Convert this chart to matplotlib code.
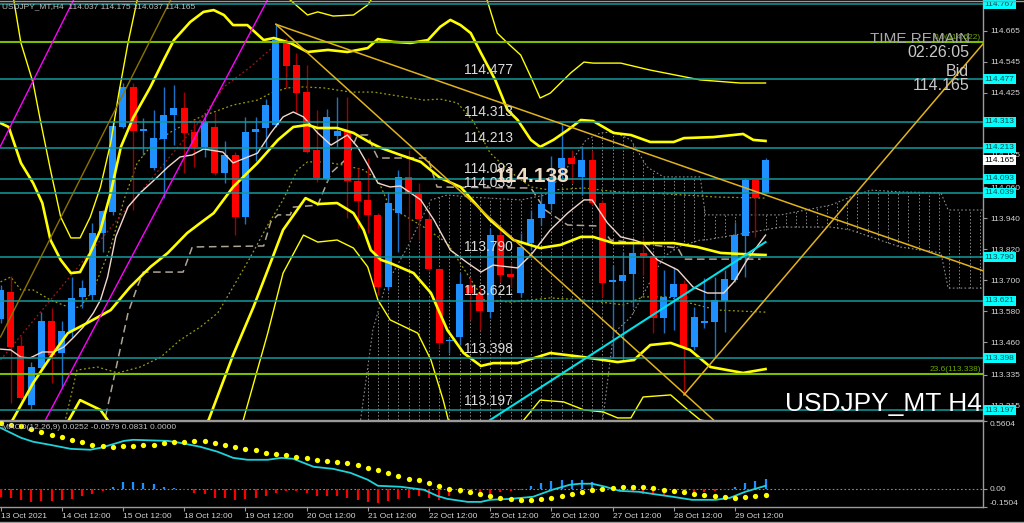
import numpy as np
import matplotlib
matplotlib.use("Agg")
import matplotlib.pyplot as plt
import matplotlib.transforms as mtransforms
from matplotlib.lines import Line2D

# USDJPY_MT H4, barra 0 = 13 Oct 12:00
opens = [113.550, 113.655, 113.446, 113.218, 113.361, 113.543, 113.419, 113.504, 113.636, 113.643,
         113.883, 113.964, 114.293, 114.448, 114.277, 114.134, 114.247, 114.339, 114.366, 114.274,
         114.216, 114.293, 114.115, 114.185, 113.945, 114.274, 114.289, 114.301, 114.618, 114.533,
         114.428, 114.204, 114.092, 114.258, 114.277, 114.084, 114.011, 113.953, 113.674, 113.960,
         114.100, 114.034, 113.937, 113.744, 113.465, 113.481, 113.682, 113.651, 113.577, 113.875,
         113.724, 113.651, 113.844, 113.941, 113.995, 114.134, 114.173, 114.100, 114.165, 113.999,
         113.694, 113.697, 113.724, 113.806, 113.794, 113.554, 113.636, 113.686, 113.442, 113.535,
         113.539, 113.620, 113.701, 113.871, 114.088, 114.037]
highs = [113.682, 113.717, 113.485, 113.384, 113.577, 113.593, 113.543, 113.713, 113.701, 113.922,
         113.972, 114.312, 114.463, 114.463, 114.328, 114.359, 114.448, 114.455, 114.428, 114.320,
         114.347, 114.351, 114.239, 114.196, 114.332, 114.332, 114.401, 114.687, 114.637, 114.579,
         114.533, 114.359, 114.363, 114.409, 114.409, 114.134, 114.173, 113.960, 114.042, 114.127,
         114.204, 114.076, 113.972, 113.748, 113.477, 113.728, 113.713, 113.674, 113.902, 113.902,
         113.767, 113.883, 113.972, 114.038, 114.181, 114.308, 114.204, 114.216, 114.204, 114.011,
         113.759, 113.809, 113.864, 113.864, 113.806, 113.740, 113.752, 113.701, 113.597, 113.709,
         113.713, 113.740, 113.926, 114.096, 114.088, 114.175]
lows = [113.535, 113.226, 113.237, 113.202, 113.353, 113.303, 113.284, 113.481, 113.593, 113.624,
        113.809, 113.953, 114.289, 113.972, 114.185, 114.127, 114.018, 114.223, 114.115, 114.138,
        114.177, 114.107, 114.076, 113.875, 113.918, 114.161, 114.216, 114.293, 114.444, 114.347,
        114.192, 114.080, 114.084, 114.216, 113.941, 113.902, 113.883, 113.643, 113.663, 113.809,
        113.856, 113.856, 113.736, 113.438, 113.419, 113.450, 113.547, 113.508, 113.554, 113.694,
        113.674, 113.636, 113.817, 113.914, 113.972, 114.088, 114.076, 114.030, 113.991, 113.636,
        113.400, 113.392, 113.597, 113.721, 113.496, 113.496, 113.508, 113.257, 113.431, 113.516,
        113.403, 113.500, 113.694, 113.713, 113.868, 114.037]
closes = [113.663, 113.442, 113.245, 113.365, 113.543, 113.411, 113.504, 113.632, 113.670, 113.883,
          113.968, 114.297, 114.448, 114.277, 114.285, 114.250, 114.339, 114.366, 114.270, 114.216,
          114.312, 114.115, 114.185, 113.945, 114.274, 114.285, 114.378, 114.629, 114.529, 114.424,
          114.196, 114.096, 114.332, 114.277, 114.084, 114.007, 113.953, 113.674, 113.999, 114.100,
          114.034, 113.937, 113.744, 113.458, 113.469, 113.686, 113.651, 113.581, 113.875, 113.721,
          113.713, 113.829, 113.937, 113.995, 114.100, 114.173, 114.150, 114.165, 113.999, 113.690,
          113.701, 113.721, 113.806, 113.794, 113.554, 113.636, 113.686, 113.442, 113.558, 113.543,
          113.624, 113.705, 113.875, 114.088, 114.018, 114.165]

# niveis horizontais e fibo
levels = [114.767, 114.477, 114.313, 114.213, 114.093, 114.039, 113.790, 113.621, 113.398, 113.197]
fibo_levels = [114.622, 113.338]
fibo_labels = ["0.0(114.622)", "23.6(113.338)"]
bid = 114.165
bid_mark = 114.138
price_ticks = [114.665, 114.545, 114.425, 114.185, 114.060, 113.940,
               113.820, 113.700, 113.580, 113.460, 113.335, 113.215]

# bollinger (20,2) grosso
ub_x = [0, 0.8, 2.0, 3.2, 4.1, 4.9, 5.9, 6.9, 7.8, 8.8, 9.8, 10.8, 11.8, 13.0, 14.7, 16.0, 17.0, 18.6, 19.9, 20.9,
        21.9, 22.8, 24.2, 25.8, 26.8, 28.4, 30.1, 32.1, 34.0, 36.0, 37.0, 38.5, 40.2, 41.9, 43.1, 44.1, 45.1, 46.1,
        47.1, 48.5, 49.7, 50.7, 52.0, 52.9, 54.2, 55.6, 56.9, 58.1, 60.1, 61.8, 63.7, 66.0, 67.0, 69.9, 72.8, 73.8, 75.0]
ub_y = [114.308, 114.293, 114.154, 114.076, 113.999, 113.856, 113.779, 113.728, 113.732, 113.806,
        113.895, 114.038, 114.216, 114.328, 114.448, 114.552, 114.629, 114.699, 114.738, 114.745,
        114.726, 114.687, 114.687, 114.629, 114.637, 114.618, 114.583, 114.591, 114.583, 114.598,
        114.633, 114.622, 114.618, 114.629, 114.680, 114.707, 114.687, 114.656, 114.579, 114.475,
        114.359, 114.320, 114.243, 114.216, 114.243, 114.281, 114.320, 114.316, 114.270, 114.262,
        114.235, 114.235, 114.250, 114.254, 114.266, 114.243, 114.239]
mid_x = [0, 1.3, 3.2, 4.9, 6.6, 8.5, 10.8, 12.7, 14.7, 16.4, 18.3, 19.6, 20.9, 22.8, 25.2, 27.2, 28.7, 30.1, 31.1, 33.0,
         34.6, 36.3, 37.3, 39.2, 41.2, 43.1, 45.1, 48.0, 50.3, 52.9, 54.9, 56.9, 58.1, 60.1, 63.4, 66.0, 68.3, 70.6, 72.5, 75.0]
mid_y = [113.083, 113.168, 113.303, 113.403, 113.496, 113.535, 113.585, 113.674, 113.752, 113.806,
         113.883, 113.922, 113.960, 114.061, 114.154, 114.243, 114.293, 114.301, 114.289, 114.289,
         114.270, 114.231, 114.212, 114.185, 114.158, 114.096, 114.061, 113.933, 113.856, 113.825,
         113.837, 113.868, 113.868, 113.844, 113.844, 113.844, 113.829, 113.806, 113.802, 113.798]
lb_x = [3.9, 6.7, 7.8, 8.8, 9.8, 10.5, 12.7, 15.7, 18.6, 20.4, 22.8, 24.8, 26.2, 27.7, 29.9, 31.1, 33.0, 34.6, 35.6, 36.3,
        37.3, 38.2, 40.5, 42.2, 43.8, 45.4, 47.1, 48.3, 50.7, 53.9, 57.2, 60.5, 62.1, 63.7, 65.7, 67.6, 69.6, 72.8, 75.0]
lb_y = [112.967, 113.160, 113.237, 113.218, 113.199, 113.160, 113.025, 113.044, 113.090, 113.160,
        113.411, 113.597, 113.740, 113.895, 114.018, 113.995, 113.999, 113.960, 113.895, 113.817,
        113.779, 113.767, 113.728, 113.651, 113.508, 113.419, 113.369, 113.380, 113.380, 113.419,
        113.403, 113.384, 113.392, 113.450, 113.458, 113.431, 113.365, 113.342, 113.357]
# bandas externas (finas)
ub3_x = [0, 1.3, 2.0, 3.2, 3.9, 4.9, 5.9, 6.9, 7.8, 8.8, 9.8, 10.8, 11.6, 12.5, 13.4, 15.7, 20.9, 25.8, 28.4, 30.1,
         31.1, 32.6, 34.6, 36.0, 37.3, 43.1, 46.6, 47.7, 48.7, 49.7, 51.0, 52.0, 52.9, 53.9, 55.9, 57.2, 58.1, 60.8,
         63.7, 68.6, 72.5, 75.0]
ub3_y = [114.939, 114.784, 114.618, 114.463, 114.320, 114.127, 113.945, 113.864, 113.864, 113.945,
         114.061, 114.231, 114.424, 114.618, 114.784, 115.055, 115.132, 114.869, 114.784, 114.726,
         114.738, 114.722, 114.726, 114.765, 114.842, 114.970, 114.861, 114.784, 114.656, 114.618,
         114.571, 114.486, 114.405, 114.424, 114.502, 114.544, 114.540, 114.540, 114.513, 114.475,
         114.463, 114.463]
lb3_x = [19.6, 23.8, 26.2, 27.7, 29.7, 31.1, 33.0, 34.6, 36.0, 37.0, 38.2, 40.9, 42.2, 43.4, 43.9, 47.1, 51.3, 52.9,
         55.2, 57.2, 59.1, 60.5, 61.8, 63.0, 65.7, 67.4, 68.6, 75.0]
lb3_y = [112.967, 113.160, 113.496, 113.728, 113.875, 113.848, 113.856, 113.825, 113.752, 113.624,
         113.547, 113.496, 113.392, 113.237, 113.160, 113.044, 113.160, 113.237, 113.230, 113.199,
         113.191, 113.168, 113.168, 113.249, 113.257, 113.199, 113.160, 113.121]

# media rapida (rosa claro)
ma_x = [0, 1.0, 2.0, 2.9, 4.1, 5.2, 6.2, 7.2, 8.1, 9.1, 9.8, 10.5, 11.3, 12.5, 13.7, 15.4, 16.4, 17.6, 18.8, 19.9,
        21.8, 22.8, 25.2, 26.5, 27.7, 28.7, 29.7, 31.1, 32.4, 34.0, 35.0, 36.3, 37.0, 38.2, 39.2, 41.2, 42.5, 44.1,
        45.8, 47.1, 48.3, 50.7, 52.0, 53.9, 55.6, 57.2, 58.0, 59.5, 60.8, 62.1, 63.0, 64.4, 66.4, 67.9, 69.3, 70.9,
        71.9, 73.2, 75.0]
ma_y = [113.434, 113.431, 113.403, 113.400, 113.423, 113.423, 113.442, 113.481, 113.519, 113.574,
        113.624, 113.713, 113.868, 113.984, 114.038, 114.100, 114.138, 114.177, 114.185, 114.208,
        114.196, 114.154, 114.192, 114.270, 114.332, 114.351, 114.332, 114.270, 114.223, 114.262,
        114.216, 114.127, 114.076, 114.061, 114.065, 114.011, 113.933, 113.817, 113.767, 113.732,
        113.759, 113.748, 113.798, 113.895, 113.960, 114.011, 114.011, 113.922, 113.868, 113.856,
        113.844, 113.779, 113.740, 113.674, 113.651, 113.651, 113.694, 113.779, 113.875]

# ichimoku
kijun_x = [9.8, 11.5, 12.5, 13.4, 14.0, 17.9, 18.8, 25.8, 26.5, 27.2, 28.4, 28.7, 31.1, 32.4, 34.0, 35.0, 36.0, 36.6,
           37.0, 41.9, 42.8, 52.0, 53.4, 55.6, 58.8, 59.8, 66.4, 67.0, 74.5]
kijun_y = [113.083, 113.392, 113.574, 113.674, 113.732, 113.732, 113.829, 113.833, 113.926, 113.953,
           113.953, 113.983, 113.991, 114.115, 114.173, 114.262, 114.262, 114.204, 114.173, 114.173,
           114.061, 114.057, 113.972, 113.914, 113.910, 113.856, 113.825, 113.782, 113.782]
od1_x = [0, 1.0, 2.0, 3.2, 4.9, 6.9, 7.8, 9.1, 10.8, 12.1, 13.4, 15.0, 17.0, 19.6, 22.8, 25.2, 26.5, 28.1, 29.7, 31.7,
         34.3, 36.6, 41.5, 43.1, 44.8, 46.4, 48.0, 50.0, 52.0, 53.9, 57.2, 60.5, 63.7, 70.3, 75.0]
od1_y = [113.694, 113.713, 113.663, 113.663, 113.624, 113.593, 113.597, 113.663, 113.829, 114.011,
         114.154, 114.231, 114.281, 114.332, 114.378, 114.397, 114.424, 114.444, 114.448, 114.444,
         114.428, 114.428, 114.397, 114.401, 114.386, 114.312, 114.192, 114.119, 114.061, 114.049,
         114.057, 114.042, 114.038, 114.022, 114.018]
od2_x = [5.9, 7.5, 9.5, 11.5, 13.7, 15.7, 17.6, 19.6, 21.3, 22.8, 24.5, 26.2, 27.7, 29.1, 30.1, 31.7, 33.6, 35.6,
         37.0, 38.2, 39.2, 41.5, 43.8, 47.4, 50.0, 53.9, 57.2, 61.1, 63.0, 65.4, 67.6, 70.3, 75.0]
od2_y = [113.083, 113.353, 113.365, 113.342, 113.365, 113.403, 113.469, 113.520, 113.574, 113.674,
         113.790, 113.914, 114.011, 114.127, 114.158, 114.158, 114.146, 114.127, 114.088, 113.980,
         113.960, 113.906, 113.844, 113.624, 113.616, 113.632, 113.624, 113.605, 113.636, 113.636,
         113.612, 113.585, 113.577]
chikou_x = [0, 9.8, 19.6, 21.9, 24.5, 26.7]
chikou_y = [113.392, 113.856, 114.320, 114.448, 114.525, 114.602]
cloud_x = [35.3, 36.5, 37.7, 39.9, 42.2, 43.8, 46.1, 51.0, 53.4, 55.4, 57.4, 58.8, 60.1, 61.8, 63.4, 65.0, 66.4,
           68.6, 69.1, 76.5, 81.4, 83.3, 85.3, 88.2, 92.2, 92.9, 96.4]
cloud_top = [113.160, 113.508, 113.674, 113.829, 114.011, 114.030, 114.022, 114.011, 114.030, 114.127,
             114.243, 114.270, 114.274, 114.243, 114.138, 114.100, 114.100, 114.100, 113.953, 113.953,
             113.991, 114.022, 114.049, 114.042, 114.038, 113.972, 113.972]
cloud_bot = [113.083, 113.083, 113.083, 113.083, 113.083, 113.083, 113.083, 113.083, 113.083, 113.083,
             113.083, 113.083, 113.496, 113.558, 113.674, 113.790, 113.829, 113.856, 113.856, 113.906,
             113.906, 113.895, 113.868, 113.829, 113.806, 113.670, 113.670]

# linhas de tendencia (barra, preco)
tl_gold = [((27.0, 114.690), (96.4, 113.736)),
           ((27.0, 114.690), (69.9, 113.160)),
           ((67.0, 113.257), (96.4, 114.618))]
tl_olive = ((0.0, 113.481), (17.5, 114.848))
tl_magenta = [((0.0, 114.219), (8.0, 114.850)),
              ((4.0, 113.130), (27.0, 114.846))]
tl_cyan = ((48.0, 113.160), (75.0, 113.848))

# MACD(12,26,9)
macd_hist = [-0.066, -0.075, -0.096, -0.110, -0.102, -0.102, -0.096, -0.083, -0.063, -0.042,
             -0.019, 0.019, 0.055, 0.055, 0.047, 0.036, 0.019, 0.008, -0.014, -0.036,
             -0.047, -0.075, -0.075, -0.096, -0.083, -0.075, -0.063, -0.036, -0.022, -0.019,
             -0.036, -0.063, -0.063, -0.063, -0.075, -0.096, -0.110, -0.119, -0.102, -0.083,
             -0.075, -0.063, -0.075, -0.096, -0.063, -0.042, -0.042, -0.036, -0.042, -0.027,
             -0.019, -0.009, 0.027, 0.047, 0.063, 0.075, 0.075, 0.075, 0.055, 0.008,
             -0.014, -0.027, -0.027, -0.042, -0.055, -0.055, -0.042, -0.042, -0.042, -0.027,
             -0.022, -0.014, 0.014, 0.047, 0.063, 0.083]
macd_signal = [0.540, 0.529, 0.515, 0.493, 0.468, 0.447, 0.427, 0.405, 0.386, 0.363,
               0.356, 0.347, 0.350, 0.356, 0.361, 0.366, 0.375, 0.383, 0.389, 0.391,
               0.391, 0.378, 0.363, 0.347, 0.330, 0.317, 0.300, 0.287, 0.276, 0.264,
               0.251, 0.237, 0.231, 0.221, 0.210, 0.195, 0.174, 0.152, 0.129, 0.108,
               0.085, 0.069, 0.050, 0.027, 0.000, -0.014, -0.030, -0.044, -0.063, -0.072,
               -0.085, -0.091, -0.091, -0.083, -0.072, -0.063, -0.047, -0.030, -0.014, -0.003,
               0.006, 0.014, 0.014, 0.011, 0.003, -0.008, -0.019, -0.030, -0.042, -0.052,
               -0.063, -0.069, -0.072, -0.066, -0.063, -0.052]
macd_x = [0, 2.0, 3.2, 4.9, 6.9, 8.8, 9.8, 10.8, 12.1, 13.0, 16.4, 17.6, 19.6, 21.3, 22.8, 24.2, 26.2, 27.5, 28.7,
          30.7, 32.6, 34.3, 36.0, 37.0, 39.2, 41.5, 42.8, 43.8, 45.8, 47.1, 48.0, 50.0, 52.2, 54.1, 55.8, 56.8, 58.0,
          59.3, 60.7, 62.6, 63.9, 65.9, 67.8, 70.1, 71.5, 73.0, 75.0]
macd_line = [0.504, 0.422, 0.389, 0.363, 0.330, 0.323, 0.339, 0.363, 0.396, 0.405,
             0.396, 0.380, 0.347, 0.306, 0.256, 0.240, 0.240, 0.256, 0.248, 0.182,
             0.165, 0.132, 0.075, 0.025, 0.017, -0.008, -0.058, -0.083, -0.108, -0.108,
             -0.091, -0.083, -0.066, -0.008, 0.033, 0.042, 0.042, 0.017, -0.017, -0.025,
             -0.042, -0.066, -0.091, -0.091, -0.075, -0.025, 0.025]

tick_bars = [0, 6, 12, 18, 24, 30, 36, 42, 48, 54, 60, 66, 72]
tick_labels = ["13 Oct 2021", "14 Oct 12:00", "15 Oct 12:00", "18 Oct 12:00", "19 Oct 12:00",
               "20 Oct 12:00", "21 Oct 12:00", "22 Oct 12:00", "25 Oct 12:00", "26 Oct 12:00",
               "27 Oct 12:00", "28 Oct 12:00", "29 Oct 12:00"]

BG = "black"
GRID = "#9a9a9a"
LABEL = "#d4d4d4"
YEL = "#ffff00"


def seg(ax, p, **kw):
    (x0, y0), (x1, y1) = p
    ax.plot([x0, x1], [y0, y1], **kw)


def desenhar_preco(ax):
    idx = np.arange(len(opens))
    o, h, l, c = (np.array(v) for v in (opens, highs, lows, closes))
    up = c >= o

    # nuvem ichimoku (hachurado vertical pontilhado)
    for b in range(36, 97):
        t = np.interp(b, cloud_x, cloud_top)
        bt = np.interp(b, cloud_x, cloud_bot)
        ax.plot([b, b], [bt, t], color="#8a8a8a", lw=0.7, ls=(0, (1.5, 2)), zorder=1)
    ax.plot(cloud_x, cloud_top, color="#8a8a8a", lw=0.8, ls=(0, (1.5, 2)), zorder=1)
    ax.plot(cloud_x, cloud_bot, color="#8a8a8a", lw=0.8, ls=(0, (1.5, 2)), zorder=1)

    ax.plot(od1_x, od1_y, color="#9a9a10", lw=0.9, ls=(0, (1.5, 2)), zorder=1.5)
    ax.plot(od2_x, od2_y, color="#9a9a10", lw=0.9, ls=(0, (1.5, 2)), zorder=1.5)
    ax.plot(chikou_x, chikou_y, color="#a01818", lw=0.9, ls=(0, (1.5, 2)), zorder=1.5)
    ax.plot(kijun_x, kijun_y, color="#b0a494", lw=1.1, ls=(0, (5, 3)), zorder=1.6)

    # candles
    ax.vlines(idx[up], l[up], h[up], color="#1d72c8", lw=1.0, zorder=2)
    ax.vlines(idx[~up], l[~up], h[~up], color="#a00000", lw=1.0, zorder=2)
    base = np.minimum(o, c)
    alt = np.maximum(np.abs(c - o), 0.006)
    ax.bar(idx[up], alt[up], bottom=base[up], width=0.68, color="#1e90ff", zorder=2.1, linewidth=0)
    ax.bar(idx[~up], alt[~up], bottom=base[~up], width=0.68, color="#ff0000", zorder=2.1, linewidth=0)

    # indicadores
    ax.plot(ma_x, ma_y, color="#f2d8cc", lw=1.0, zorder=3)
    for xs, ys in ((ub3_x, ub3_y), (lb3_x, lb3_y)):
        ax.plot(xs, ys, color=YEL, lw=1.0, zorder=3)
    for xs, ys in ((ub_x, ub_y), (mid_x, mid_y), (lb_x, lb_y)):
        ax.plot(xs, ys, color=YEL, lw=1.9, zorder=3.1)

    # objetos
    for lv in levels:
        ax.axhline(lv, color="#139a9a", lw=1.1, zorder=3.5)
        ax.text(45.4, lv + 0.011, f"{lv:.3f}", color="#dcdcdc", fontsize=10,
                va="bottom", ha="left", zorder=5, clip_on=True)
    trf = mtransforms.blended_transform_factory(ax.transAxes, ax.transData)
    for lv, lab in zip(fibo_levels, fibo_labels):
        ax.axhline(lv, color="#7cbc00", lw=1.5, zorder=3.5)
        ax.text(0.998, lv + 0.004, lab, transform=trf, color="#6aa800", fontsize=6,
                ha="right", va="bottom", zorder=4)
    for p in tl_gold:
        seg(ax, p, color="#e2b21c", lw=1.1, zorder=3.6)
    seg(ax, tl_olive, color="#8c7400", lw=1.0, zorder=3.6)
    for p in tl_magenta:
        seg(ax, p, color="#ff00ff", lw=1.0, zorder=3.6)
    seg(ax, tl_cyan, color="#00e0e8", lw=1.5, zorder=3.6)

    ax.text(52.1, 114.100, f"{bid_mark:.3f}", color="#f0dcc4", fontsize=15, fontweight="bold",
            ha="center", va="center", zorder=5)

    # eixo de precos a direita
    ax.yaxis.tick_right()
    ax.set_yticks(price_ticks)
    ax.set_yticklabels([f"{v:.3f}" for v in price_ticks])
    ax.tick_params(axis="y", colors=GRID, labelcolor=LABEL, labelsize=6, length=3, pad=2)
    ax.tick_params(axis="x", bottom=False, labelbottom=False)
    tr = mtransforms.blended_transform_factory(ax.transAxes, ax.transData)
    for lv in levels:
        ax.text(1.0 + 1.5 / 983, lv, f"{lv:.3f}", transform=tr, fontsize=6, color="#0a4c4c",
                va="center", ha="left", clip_on=False, zorder=6,
                bbox=dict(boxstyle="square,pad=0.18", fc="#00ffff", ec="none"))
    ax.text(1.0 + 1.5 / 983, bid, f"{bid:.3f}", transform=tr, fontsize=6, color="black",
            va="center", ha="left", clip_on=False, zorder=6,
            bbox=dict(boxstyle="square,pad=0.18", fc="white", ec="none"))

    # textos
    ax.text(0.002, 0.983, "USDJPY_MT,H4  114.037 114.175 114.037 114.165", transform=ax.transAxes,
            color="#c0c0c0", fontsize=6, va="center", ha="left", zorder=6)
    ax.text(0.9865, 0.907, "TIME REMAIN", transform=ax.transAxes, color="#a8a8a8", fontsize=11,
            family=["Liberation Sans Narrow", "Liberation Sans"], va="center", ha="right", zorder=6)
    ax.text(0.9858, 0.874, "02:26:05", transform=ax.transAxes, color="#c8c8c8", fontsize=11.5,
            va="center", ha="right", zorder=6)
    ax.text(0.9858, 0.830, "Bid", transform=ax.transAxes, color="#c8c8c8", fontsize=11.5,
            va="center", ha="right", zorder=6)
    ax.text(0.9858, 0.797, f"{bid:.3f}", transform=ax.transAxes, color="#c8c8c8", fontsize=11.5,
            va="center", ha="right", zorder=6)
    ax.text(0.999, 0.038, "USDJPY_MT H4", transform=ax.transAxes, color="white", fontsize=19,
            va="center", ha="right", zorder=6)


def desenhar_macd(axm):
    idx = np.arange(len(macd_hist))
    hist = np.array(macd_hist)
    pos = hist >= 0
    axm.axhline(0, color="#8a8a8a", lw=0.8, ls=(0, (1.5, 2)), zorder=1)
    axm.vlines(idx[pos], 0, hist[pos], color="#1e90ff", lw=1.6, zorder=2)
    axm.vlines(idx[~pos], 0, hist[~pos], color="#ff0000", lw=1.6, zorder=2)
    axm.plot(macd_x, macd_line, color="#1ed2da", lw=1.3, zorder=3)
    axm.plot(idx, macd_signal, "o", ms=3.8, color=YEL, mec="none", zorder=4)
    axm.text(0.002, 0.93, "MACD(12,26,9) 0.0252 -0.0579 0.0831 0.0000", transform=axm.transAxes,
             color="#c0c0c0", fontsize=6, va="center", ha="left", zorder=6)

    axm.yaxis.tick_right()
    axm.set_yticks([0.5604, 0.0, -0.1504])
    axm.set_yticklabels(["0.5604", "0.00", "-0.1504"])
    labs = axm.get_yticklabels()
    labs[0].set_verticalalignment("top")
    labs[2].set_verticalalignment("bottom")
    axm.tick_params(axis="y", colors=GRID, labelcolor=LABEL, labelsize=6, length=3, pad=2)

    axm.set_xticks(tick_bars)
    axm.set_xticklabels(tick_labels)
    for lab in axm.get_xticklabels():
        lab.set_horizontalalignment("left")
    axm.tick_params(axis="x", colors=GRID, labelcolor=LABEL, labelsize=6, length=3, pad=1.5)


def main():
    plt.rcParams["font.family"] = ["Liberation Sans", "DejaVu Sans"]
    W, H = 1024.0, 523.0
    fig = plt.figure(figsize=(10.24, 5.23), dpi=100, facecolor=BG)
    ax = fig.add_axes([0, 1 - 420 / H, 983 / W, 420 / H], facecolor=BG)
    axm = fig.add_axes([0, 1 - 507 / H, 983 / W, 86 / H], facecolor=BG)

    xlim = (-0.05, 96.32)
    ax.set_xlim(*xlim)
    ax.set_ylim(113.160, 114.784)
    axm.set_xlim(*xlim)
    axm.set_ylim(-0.1504, 0.5604)

    for a in (ax, axm):
        for s in a.spines.values():
            s.set_color(GRID)
            s.set_linewidth(1.0)
        a.spines["left"].set_visible(False)
    ax.spines["top"].set_visible(False)

    desenhar_preco(ax)
    desenhar_macd(axm)

    fig.add_artist(Line2D([0, 1], [1 - 0.5 / H, 1 - 0.5 / H], color=GRID, lw=1.0))
    fig.add_artist(Line2D([0, 1], [1.2 / H, 1.2 / H], color=GRID, lw=1.0))

    fig.savefig("out.png", dpi=100, facecolor=BG)


if __name__ == "__main__":
    main()
